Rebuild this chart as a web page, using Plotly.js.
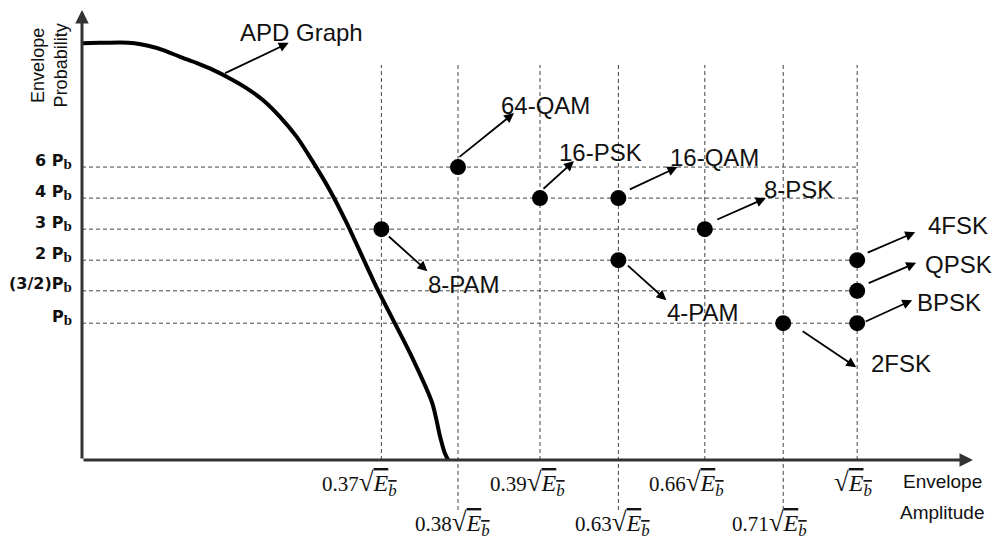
<!DOCTYPE html>
<html>
<head>
<meta charset="utf-8">
<script src="https://cdn.plot.ly/plotly-3.0.1.min.js"></script>
<style>
  html, body { margin: 0; padding: 0; background: #ffffff; }
  #chart { width: 999px; height: 542px; }
</style>
</head>
<body>
<div id="chart"></div>
<script>
// ---------- data ----------
// amplitude coefficients (multiples of sqrt(Eb)) marking the columns
const xCoef = ['0.37', '0.38', '0.39', '0.63', '0.66', '0.71', '1'];
// schematic horizontal positions of those columns (0..100 scale)
const xPos = [33.6, 42.2, 51.4, 60.2, 69.9, 78.7, 87.0];
// envelope probability levels (multiples of Pb)
const rowLabels = ['P', '(3/2)P', '2 P', '3 P', '4 P', '6 P'];
// schematic vertical positions of those levels (0..100 scale)
const rowPos = [30.4, 37.6, 44.4, 51.3, 58.2, 65.1];

// modulation schemes: column index and level index
const schemes   = ['8-PAM', '64-QAM', '16-PSK', '16-QAM', '4-PAM', '8-PSK', '2FSK', '4FSK', 'QPSK', 'BPSK'];
const schemeCol = [0, 1, 2, 3, 3, 4, 5, 6, 6, 6];
const schemeRow = [3, 5, 4, 4, 2, 3, 0, 2, 1, 0];

// APD curve (schematic)
const apdX = [0, 2.0, 4.3, 5.9, 7.3, 9.1, 11.0, 12.9, 14.7, 16.6, 18.5, 20.3, 22.2, 24.1, 25.9, 27.8, 29.7, 33.2, 36.8, 39.3, 40.2, 40.7, 41.1];
const apdY = [92.6, 92.7, 92.8, 92.6, 92.1, 91.1, 89.6, 88.2, 86.7, 84.8, 82.6, 80.0, 76.3, 71.8, 66.3, 60.0, 52.7, 37.8, 23.8, 12.7, 5.1, 1.6, 0];

// ---------- layout helpers (pixel offsets for labels) ----------
const labelOffsets = {
  '8-PAM':  {tail: [6, 6],   head: [46, 42],  text: [83, 55]},
  '64-QAM': {tail: [0, -9],  head: [56, -54], text: [87, -62]},
  '16-PSK': {tail: [2, -8],  head: [34, -37], text: [61, -46]},
  '16-QAM': {tail: [10, -8], head: [59, -31], text: [96, -41]},
  '4-PAM':  {tail: [8, 4],   head: [48, 40],  text: [85, 52]},
  '8-PSK':  {tail: [11, -9], head: [61, -31], text: [94, -40]},
  '2FSK':   {tail: [18, 7],  head: [73, 44],  text: [118, 40]},
  '4FSK':   {tail: [9, -7],  head: [58, -28], text: [101, -35]},
  'QPSK':   {tail: [10, -7], head: [59, -28], text: [101, -26]},
  'BPSK':   {tail: [7, -1],  head: [55, -23], text: [92, -21]}
};
const tickRow = [0, 1, 0, 1, 0, 1, 0];          // 0 = upper row, 1 = lower row
const tickShift = [-22, -6, -12, -6, -18, -14, -4];
const tickRowY = [-5.3, -14.0];
const gridTop = 87.8;
const lowerExt = -11.1;

const ptX = schemeCol.map(c => xPos[c]);
const ptY = schemeRow.map(r => rowPos[r]);

const traces = [
  {
    x: apdX, y: apdY, mode: 'lines', type: 'scatter',
    line: {color: '#000000', width: 4, shape: 'spline', smoothing: 0.8},
    hoverinfo: 'skip', cliponaxis: false
  },
  {
    x: ptX, y: ptY, mode: 'markers', type: 'scatter', text: schemes,
    marker: {color: '#000000', size: 16},
    hoverinfo: 'text', cliponaxis: false
  }
];

const shapes = [];
xPos.forEach((x, i) => {
  shapes.push({
    type: 'line', xref: 'x', yref: 'y', x0: x, x1: x,
    y0: tickRow[i] === 1 ? lowerExt : 0, y1: gridTop,
    line: {color: '#444444', width: 1, dash: '4px,3px'}, layer: 'below'
  });
});
rowPos.forEach(y => {
  shapes.push({
    type: 'line', xref: 'x', yref: 'y', x0: 0, x1: xPos[xPos.length - 1],
    y0: y, y1: y,
    line: {color: '#444444', width: 1, dash: '4px,3px'}, layer: 'below'
  });
});

const ann = [];
const txtFont = {family: 'Liberation Sans, Arial, sans-serif', size: 24, color: '#111111'};

// axes with arrowheads
ann.push({x: 100, y: 0, ax: 0, ay: 0, xref: 'x', yref: 'y', axref: 'x', ayref: 'y',
  text: '', showarrow: true, arrowhead: 2, arrowsize: 0.9, arrowwidth: 3, arrowcolor: '#333333'});
ann.push({x: 0, y: 100, ax: 0, ay: 0, xref: 'x', yref: 'y', axref: 'x', ayref: 'y',
  text: '', showarrow: true, arrowhead: 2, arrowsize: 0.9, arrowwidth: 3, arrowcolor: '#333333'});

// scheme arrows and labels
schemes.forEach((s, i) => {
  const o = labelOffsets[s];
  ann.push({
    x: ptX[i], y: ptY[i], xref: 'x', yref: 'y',
    xshift: o.head[0], yshift: -o.head[1],
    ax: o.tail[0] - o.head[0], ay: o.tail[1] - o.head[1],
    text: '', showarrow: true, arrowhead: 2, arrowsize: 1.1, arrowwidth: 1.8, arrowcolor: '#000000'
  });
  ann.push({
    x: ptX[i], y: ptY[i], xref: 'x', yref: 'y',
    xshift: o.text[0], yshift: -o.text[1],
    text: s, showarrow: false, font: txtFont, xanchor: 'center', yanchor: 'middle'
  });
});

// APD Graph label
ann.push({x: 23.2, y: 92.7, ax: 15.9, ay: 85.8, xref: 'x', yref: 'y', axref: 'x', ayref: 'y',
  text: '', showarrow: true, arrowhead: 2, arrowsize: 1.1, arrowwidth: 1.8, arrowcolor: '#000000'});
ann.push({x: 24.6, y: 95.1, xref: 'x', yref: 'y', text: 'APD Graph', showarrow: false,
  font: txtFont, xanchor: 'center', yanchor: 'middle'});

// x tick labels (math style)
const rad = '<span style="font-size:27px">√</span>' +
            '<span style="text-decoration:overline;font-size:24px"><i>E</i><sub><i>b</i></sub></span>';
xCoef.forEach((c, i) => {
  ann.push({
    x: xPos[i], y: tickRowY[tickRow[i]], xref: 'x', yref: 'y', xshift: tickShift[i],
    text: (c === '1' ? '' : c) + rad, showarrow: false,
    font: {family: 'Liberation Serif, Times New Roman, serif', size: 21, color: '#111111'},
    xanchor: 'center', yanchor: 'middle'
  });
});

// y tick labels
rowLabels.forEach((r, i) => {
  ann.push({
    x: 0, y: rowPos[i], xref: 'x', yref: 'y', xshift: -8, yshift: 6,
    text: r + '<sub><span style="font-family:Liberation Serif;font-size:15px">b</span></sub>',
    showarrow: false, xanchor: 'right', yanchor: 'middle',
    font: {family: 'DejaVu Sans, Verdana, sans-serif', size: 16, color: '#111111', weight: 'bold'}
  });
});

// axis titles
ann.push({x: -0.0365, y: 87.8, xref: 'paper', yref: 'y', text: 'Envelope<br>Probability', textangle: -90,
  xanchor: 'center', yanchor: 'middle',
  showarrow: false, font: {family: 'Liberation Sans, Arial, sans-serif', size: 18, color: '#111111'}});
ann.push({x: 96.6, y: -4.67, xref: 'x', yref: 'y', text: 'Envelope', showarrow: false,
  xanchor: 'center', yanchor: 'middle',
  font: {family: 'Liberation Sans, Arial, sans-serif', size: 19, color: '#111111'}});
ann.push({x: 96.6, y: -11.56, xref: 'x', yref: 'y', text: 'Amplitude', showarrow: false,
  xanchor: 'center', yanchor: 'middle',
  font: {family: 'Liberation Sans, Arial, sans-serif', size: 19, color: '#111111'}});

const layout = {
  width: 999, height: 542,
  margin: {l: 82, r: 26, t: 10, b: 12, pad: 0},
  paper_bgcolor: '#ffffff', plot_bgcolor: '#ffffff',
  showlegend: false,
  xaxis: {range: [0, 100], showgrid: false, zeroline: false, showticklabels: false, showline: false, ticks: '', fixedrange: true},
  yaxis: {range: [-15.556, 100], showgrid: false, zeroline: false, showticklabels: false, showline: false, ticks: '', fixedrange: true},
  shapes: shapes,
  annotations: ann
};

Plotly.newPlot('chart', traces, layout, {displayModeBar: false, staticPlot: true});
</script>
</body>
</html>
